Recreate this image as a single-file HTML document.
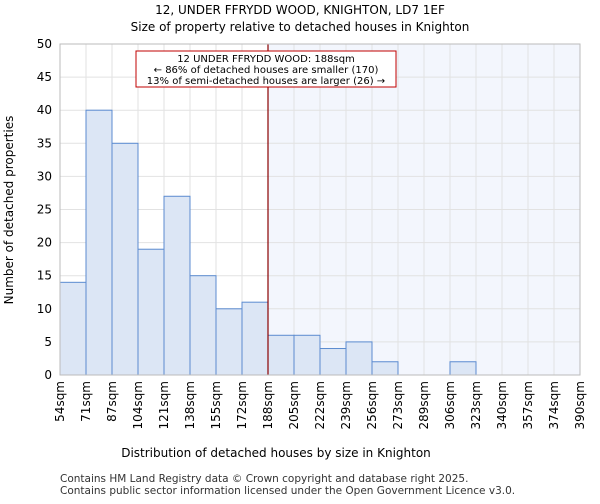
<!DOCTYPE html>
<html><head><meta charset="utf-8"><style>
body{margin:0;background:#fff;font-family:"DejaVu Sans","Liberation Sans",sans-serif}
</style></head><body>
<svg id="c" width="600" height="500" xmlns="http://www.w3.org/2000/svg">
<text x="300" y="14" text-anchor="middle" font-size="12">12, UNDER FFRYDD WOOD, KNIGHTON, LD7 1EF</text>
<text x="300" y="31" text-anchor="middle" font-size="12">Size of property relative to detached houses in Knighton</text>
<g id="plot"></g>
<text x="276" y="457" text-anchor="middle" font-size="12">Distribution of detached houses by size in Knighton</text>
<text transform="translate(13,210) rotate(-90)" text-anchor="middle" font-size="12">Number of detached properties</text>
<text x="60" y="482" font-size="10.5" fill="#333">Contains HM Land Registry data © Crown copyright and database right 2025.</text>
<text x="60" y="494" font-size="10.5" fill="#333">Contains public sector information licensed under the Open Government Licence v3.0.</text>
</svg>
<script>
const binLabels=["54sqm","71sqm","87sqm","104sqm","121sqm","138sqm","155sqm","172sqm","188sqm","205sqm","222sqm","239sqm","256sqm","273sqm","289sqm","306sqm","323sqm","340sqm","357sqm","374sqm","390sqm"];
const counts=[14,40,35,19,27,15,10,11,6,6,4,5,2,0,0,2,0,0,0,0];
const yTicks=[0,5,10,15,20,25,30,35,40,45,50];
const markerIndex=8;
const NS="http://www.w3.org/2000/svg";
const L=60,R=580,T=44,B=375,yMax=50;
const xs=i=>L+(R-L)*i/counts.length;
const ys=v=>B-(B-T)*v/yMax;
const g=document.getElementById('plot');
function mk(t,a,p){const e=document.createElementNS(NS,t);for(const k in a)e.setAttribute(k,a[k]);(p||g).appendChild(e);return e;}
const hl=mk('rect',{x:xs(markerIndex),y:T,width:R-xs(markerIndex),height:B-T,fill:'#f3f6fd'});


yTicks.forEach(v=>{
 const l=mk('line',{x1:L,x2:R,y1:ys(v),y2:ys(v),stroke:'#e2e2e2'});
 
 
 const t=mk('text',{x:L-8,y:ys(v)+4,'text-anchor':'end','font-size':12});
 
 
 t.textContent=v;
});
binLabels.forEach((s,i)=>{
 const l=mk('line',{x1:xs(i),x2:xs(i),y1:T,y2:B,stroke:'#e2e2e2'});
 
 
 const t=mk('text',{transform:`translate(${xs(i)+4},${B+6}) rotate(-90)`,'text-anchor':'end','font-size':12});
 
 
 t.textContent=s;
});
counts.forEach((v,i)=>{
 const r=mk('rect',{x:xs(i),y:ys(v),width:xs(i+1)-xs(i),height:B-ys(v),fill:'#dce6f5',stroke:'#5b8bd0','stroke-width':1});
 
 
});
const ml=mk('line',{x1:xs(markerIndex),x2:xs(markerIndex),y1:T,y2:B,stroke:'#8b0000','stroke-width':1.2});


const ax=mk('rect',{x:L,y:T,width:R-L,height:B-T,fill:'none',stroke:'#bbb'});


const box=mk('rect',{x:136,y:51,width:260,height:36,fill:'#fff',stroke:'#c00000'});


["12 UNDER FFRYDD WOOD: 188sqm","← 86% of detached houses are smaller (170)","13% of semi-detached houses are larger (26) →"].forEach((s,i)=>{
 const t=mk('text',{x:266,y:62+i*11,'text-anchor':'middle','font-size':10});
 
 
 t.textContent=s;
});
</script>
</body></html>
